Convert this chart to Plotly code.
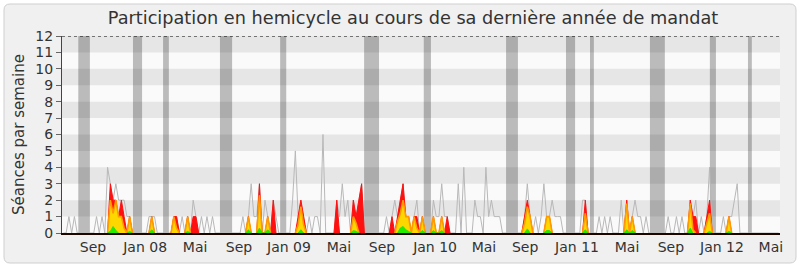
import plotly.graph_objects as go

# ---- data (weekly, 260 weeks, mid-2007 .. mid-2012) ----
weeks = list(range(260))

seances = [
    0,0,1,0,1,0,0,0,0,0, 0,0,1,0,1,0,4,3,2,3,
    2,2,2,1,1,0,0,0,0,0, 0,1,1,1,0,0,0,0,0,0,
    1,1,0,1,0,1,0,2,1,0, 1,0,1,0,1,0,0,0,0,0,
    0,0,0,0,0,1,0,1,3,1, 1,3,0,2,1,0,2,1,0,0,
    0,0,0,2,5,1,2,1,0,1, 0,1,1,0,6,0,0,0,0,2,
    1,3,1,2,0,2,1,2,3,0, 0,0,0,0,0,0,0,1,0,1,
    2,1,2,3,1,1,0,1,2,0, 1,0,0,0,2,1,1,3,1,1,
    0,0,0,3,0,4,0,0,0,2, 1,1,0,4,1,2,1,1,1,0,
    0,0,0,0,0,0,0,1,3,1, 0,1,0,1,3,1,1,2,1,1,
    1,0,0,0,0,0,0,0,2,2, 0,0,0,0,1,0,1,0,1,0,
    0,0,2,0,2,0,1,2,1,1, 0,1,0,0,0,0,0,0,0,1,
    0,0,1,0,1,0,0,2,1,2, 0,1,0,1,4,0,0,0,0,1,
    0,1,1,2,3,0,0,0,0,0, 0,0,0,0,0,0,0,0,0,0,
]

presences = [
    0,0,0,0,0,0,0,0,0,0, 0,0,0,0,0,0,0,3,2,2,
    1,2,1,0,1,0,0,0,0,0, 0,0,1,0,0,0,0,0,0,0,
    1,1,0,0,0,1,0,1,1,0, 0,0,0,0,0,0,0,0,0,0,
    0,0,0,0,0,0,0,1,0,0, 0,3,0,0,1,0,2,0,0,0,
    0,0,0,0,0,1,2,1,0,0, 0,0,0,0,0,0,0,0,0,2,
    0,0,0,0,0,2,1,2,3,0, 0,0,0,0,0,0,0,0,0,1,
    0,1,2,3,1,1,0,1,1,0, 1,0,0,0,1,0,0,1,0,1,
    0,0,0,0,0,0,0,0,0,0, 0,0,0,0,0,0,0,0,0,0,
    0,0,0,0,0,0,0,1,2,1, 0,0,0,0,0,1,1,0,0,0,
    0,0,0,0,0,0,0,0,0,2, 0,0,0,0,0,0,0,0,0,0,
    0,0,0,0,2,0,1,0,0,0, 0,0,0,0,0,0,0,0,0,0,
    0,0,0,0,0,0,0,2,1,1, 0,0,0,1,2,0,0,0,0,0,
    0,1,0,0,0,0,0,0,0,0, 0,0,0,0,0,0,0,0,0,0,
]

interventions = [
    0,0,0,0,0,0,0,0,0,0, 0,0,0,0,0,0,0,2,1.2,2,
    1,1,0.3,0,1,0,0,0,0,0, 0,0,1,0,0,0,0,0,0,0,
    1,0.3,0,0,0,1,0,0,0,0, 0,0,0,0,0,0,0,0,0,0,
    0,0,0,0,0,0,0,1,0,0, 0,2.3,0,0,1,0,0,0,0,0,
    0,0,0,0,0,0.5,1.6,0.5,0,0, 0,0,0,0,0,0,0,0,0,0,
    0,0,0,0,0,1,0.6,0,0,0, 0,0,0,0,0,0,0,0,0,0,
    0,0.7,1.2,2,1,1,0,1,0.3,0, 1,0,0,0,1,0,0,1,0,0,
    0,0,0,0,0,0,0,0,0,0, 0,0,0,0,0,0,0,0,0,0,
    0,0,0,0,0,0,0,0.6,1.6,1, 0,0,0,0,0,1,1,0,0,0,
    0,0,0,0,0,0,0,0,0,1.2, 0,0,0,0,0,0,0,0,0,0,
    0,0,0,0,1.8,0,1,0,0,0, 0,0,0,0,0,0,0,0,0,0,
    0,0,0,0,0,0,0,1.8,0.2,0, 0,0,0,0.6,1.2,0,0,0,0,0,
    0,1,0,0,0,0,0,0,0,0, 0,0,0,0,0,0,0,0,0,0,
]

questions = [
    0,0,0,0,0,0,0,0,0,0, 0,0,0,0,0,0,0,0.1,0.4,0.15,
    0,0,0,0,0.1,0,0,0,0,0, 0,0,0.2,0,0,0,0,0,0,0,
    0,0,0,0,0,0.1,0,0,0,0, 0,0,0,0,0,0,0,0,0,0,
    0,0,0,0,0,0,0,0.2,0,0, 0,0.3,0,0,0.2,0,0,0,0,0,
    0,0,0,0,0,0,0.2,0,0,0, 0,0,0,0,0,0,0,0,0,0,
    0,0,0,0,0,0.15,0.1,0,0,0, 0,0,0,0,0,0,0,0,0,0,
    0,0,0.3,0.4,0.2,0.1,0,0,0,0, 0.15,0,0,0,0.15,0,0,0.15,0,0,
    0,0,0,0,0,0,0,0,0,0, 0,0,0,0,0,0,0,0,0,0,
    0,0,0,0,0,0,0,0,0.25,0, 0,0,0,0,0,0.15,0.15,0,0,0,
    0,0,0,0,0,0,0,0,0,0.2, 0,0,0,0,0,0,0,0,0,0,
    0,0,0,0,0.2,0,0.15,0,0,0, 0,0,0,0,0,0,0,0,0,0,
    0,0,0,0,0,0,0,0.3,0,0, 0,0,0,0,0.1,0,0,0,0,0,
    0,0.1,0,0,0,0,0,0,0,0, 0,0,0,0,0,0,0,0,0,0,
]

# parliamentary breaks (week positions)
vac_start = [5.4, 25.2, 36.1, 56.7, 78.5, 108.9, 130.5, 160.3, 182.0, 190.7, 212.4, 234.1, 247.9]
vac_end   = [9.6, 28.5, 38.2, 61.1, 80.7, 114.3, 133.1, 164.6, 185.3, 192.1, 217.8, 236.3, 249.3]

tick_pos = [10.7, 29.6, 47.7, 63.6, 81.7, 99.8, 115.4, 134.6, 152.3, 167.2, 186.0, 204.1, 220.0, 238.5, 256.2]
tick_text = ["Sep", "Jan 08", "Mai", "Sep", "Jan 09", "Mai", "Sep", "Jan 10", "Mai",
             "Sep", "Jan 11", "Mai", "Sep", "Jan 12", "Mai"]


def blank_flat_zeros(vals):
    """Hide zero points whose neighbours are also zero (so no line is drawn on the baseline)."""
    out = []
    n = len(vals)
    for i, v in enumerate(vals):
        left = vals[i - 1] if i > 0 else 0
        right = vals[i + 1] if i < n - 1 else 0
        if v == 0 and left == 0 and right == 0:
            out.append(None)
        else:
            out.append(v)
    return out


# ---- figure ----
W, H = 800, 267
ML, MR, MT, MB = 62, 20, 36, 34
PW, PH = W - ML - MR, H - MT - MB

def xp(px):
    return (px - ML) / PW

def yp(py):
    return (H - MB - py) / PH

fig = go.Figure()
fig.add_trace(go.Scatter(x=weeks, y=seances, mode="lines",
                         line=dict(color="#b8b8b8", width=1), hoverinfo="skip"))
fig.add_trace(go.Scatter(x=weeks, y=blank_flat_zeros(presences), mode="lines", fill="tozeroy",
                         fillcolor="#ff1010", line=dict(color="#ff1010", width=1)))
fig.add_trace(go.Scatter(x=weeks, y=blank_flat_zeros(interventions), mode="lines", fill="tozeroy",
                         fillcolor="#ffd700", line=dict(color="#ff9a00", width=1.6)))
fig.add_trace(go.Scatter(x=weeks, y=blank_flat_zeros(questions), mode="lines", fill="tozeroy",
                         fillcolor="#22ee00", line=dict(color="#22dd00", width=0.8)))

shapes = []
# rounded outer frame
L, R, T, B, r = 4, 796, 4, 263, 6
path = (f"M {xp(L+r)},{yp(T)} L {xp(R-r)},{yp(T)} Q {xp(R)},{yp(T)} {xp(R)},{yp(T+r)} "
        f"L {xp(R)},{yp(B-r)} Q {xp(R)},{yp(B)} {xp(R-r)},{yp(B)} "
        f"L {xp(L+r)},{yp(B)} Q {xp(L)},{yp(B)} {xp(L)},{yp(B-r)} "
        f"L {xp(L)},{yp(T+r)} Q {xp(L)},{yp(T)} {xp(L+r)},{yp(T)} Z")
shapes.append(dict(type="path", path=path, xref="paper", yref="paper",
                   fillcolor="#f0f0f0", line=dict(color="#cfcfcf", width=1), layer="below"))
# plot area
shapes.append(dict(type="rect", xref="paper", yref="y", x0=0, x1=1, y0=0, y1=12,
                   fillcolor="#fafafa", line=dict(width=0), layer="below"))
for lo in range(1, 12, 2):
    shapes.append(dict(type="rect", xref="paper", yref="y", x0=0, x1=1, y0=lo, y1=lo + 1,
                       fillcolor="#e6e6e6", line=dict(width=0), layer="below"))
for s, e in zip(vac_start, vac_end):
    shapes.append(dict(type="rect", xref="x", yref="paper", x0=s, x1=e, y0=0, y1=1,
                       fillcolor="rgba(0,0,0,0.25)", line=dict(width=0), layer="below"))
shapes.append(dict(type="line", xref="paper", yref="y", x0=0, x1=1, y0=12, y1=12,
                   line=dict(color="#000000", width=1, dash="dot"), layer="above"))

fig.update_layout(
    width=W, height=H,
    margin=dict(l=ML, r=MR, t=MT, b=MB),
    paper_bgcolor="white", plot_bgcolor="rgba(0,0,0,0)",
    showlegend=False,
    font=dict(family="DejaVu Sans", color="#333333", size=14),
    title=dict(text="Participation en hemicycle au cours de sa dernière année de mandat",
               x=413 / W, xref="container", xanchor="center",
               y=1 - 18 / H, yref="container", yanchor="middle",
               font=dict(size=17.7, color="#333333", family="DejaVu Sans")),
    shapes=shapes,
    xaxis=dict(range=[-0.5, 259.5], tickmode="array", tickvals=tick_pos, ticktext=tick_text,
               showgrid=False, zeroline=False, showline=True, linecolor="#1a0800", linewidth=1.5,
               ticks="", tickfont=dict(size=14, color="#333333")),
    yaxis=dict(range=[0, 12], tickmode="linear", tick0=0, dtick=1, showgrid=False,
               zeroline=False, showline=True, linecolor="#444444", linewidth=1,
               ticks="outside", ticklen=5, tickcolor="#666666",
               tickfont=dict(size=14, color="#333333"),
               title=dict(text="Séances par semaine", font=dict(size=15, color="#333333"), standoff=7)),
)

fig.write_html("out.html")
